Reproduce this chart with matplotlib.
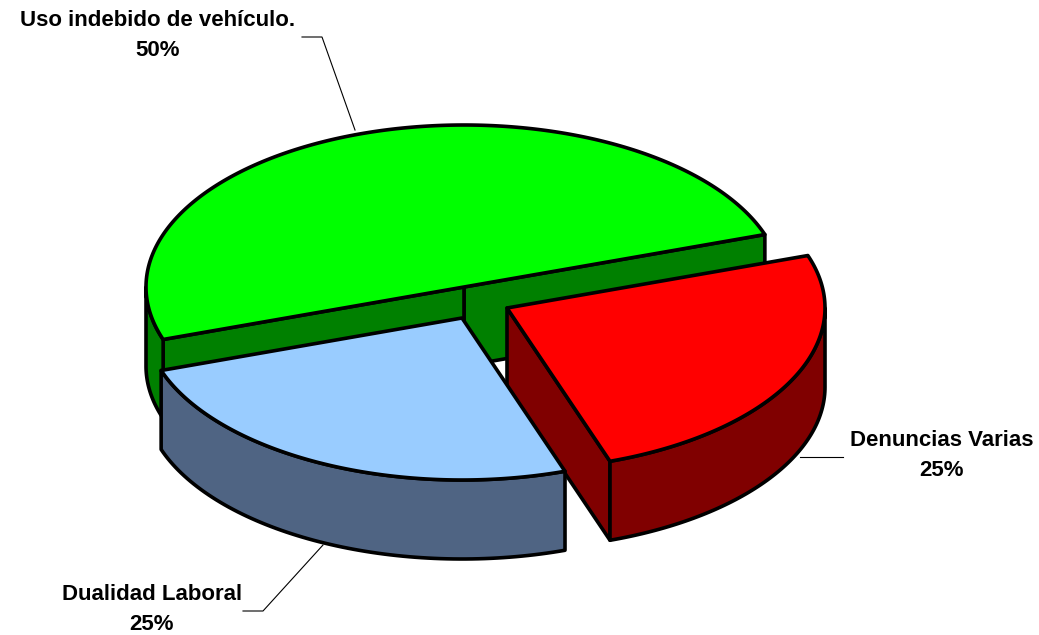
# 3D-style pie (Excel look) - casos por tipo de falta
import numpy as np
import matplotlib.pyplot as plt
from matplotlib.patches import Polygon

plt.rcParams['font.family'] = ['Liberation Sans', 'DejaVu Sans']

labels = ['Uso indebido de vehículo.', 'Dualidad Laboral', 'Denuncias Varias']
values = [50, 25, 25]
top_colors = ['#00FF00', '#99CCFF', '#FF0000']
side_colors = ['#008000', '#4F6483', '#800000']

# geometry of the drawing (pixel-like units)
CX, CY = 464, 287
RX, RY = 318, 162
DEPTH = 79
START = 18.9
offsets = [(0, 0), (-2, 31), (43, 21)]
draw_order = [0, 2, 1]

# label placement: (x, y of name, y of pct)
label_pos = [(158, 21, 50), (152, 594, 624), (942, 440, 470)]
leaders = [[(302, 37), (322, 37), (355, 130)],
           [(243, 611), (263, 611), (323, 545)],
           [(800, 457), (843, 457)]]


def pts(thetas, dx, dy, drop=0):
    t = np.radians(thetas)
    return np.column_stack([CX + dx + RX * np.cos(t), CY + dy - RY * np.sin(t) + drop])


def wall(t_a, t_b, dx, dy):
    th = np.linspace(t_a, t_b, 80)
    top = pts(th, dx, dy)
    bot = pts(th[::-1], dx, dy, DEPTH)
    return np.vstack([top, bot])


def radial_wall(t, dx, dy):
    c = np.array([[CX + dx, CY + dy]])
    p = pts([t], dx, dy)
    return np.vstack([c, p, p + [0, DEPTH], c + [0, DEPTH]])


def main():
    fig = plt.figure(figsize=(10.39, 6.35), dpi=100)
    ax = fig.add_axes([0, 0, 1, 1])
    ax.set_xlim(0, 1039)
    ax.set_ylim(635, 0)
    ax.axis('off')

    total = float(sum(values))
    angles = START + 360 * np.concatenate([[0], np.cumsum(values)]) / total
    lw = 2.6

    for i in draw_order:
        t1, t2 = angles[i], angles[i + 1]
        dx, dy = offsets[i]
        # radial cut faces facing the viewer
        if np.cos(np.radians(t1)) > 0:
            ax.add_patch(Polygon(radial_wall(t1, dx, dy), closed=True, fc=side_colors[i],
                                 ec='black', lw=lw, joinstyle='round'))
        if np.cos(np.radians(t2)) < 0:
            ax.add_patch(Polygon(radial_wall(t2, dx, dy), closed=True, fc=side_colors[i],
                                 ec='black', lw=lw, joinstyle='round'))
        # outer rim, front half only
        for k in range(2):
            lo, hi = max(t1, 180 + 360 * k), min(t2, 360 + 360 * k)
            if hi > lo:
                ax.add_patch(Polygon(wall(lo, hi, dx, dy), closed=True, fc=side_colors[i],
                                     ec='black', lw=lw, joinstyle='round'))
        # top face
        th = np.linspace(t1, t2, 200)
        face = np.vstack([[CX + dx, CY + dy], pts(th, dx, dy)])
        ax.add_patch(Polygon(face, closed=True, fc=top_colors[i], ec='black', lw=lw,
                             joinstyle='round'))

    for i, name in enumerate(labels):
        x, y1, y2 = label_pos[i]
        pct = '%d%%' % round(100 * values[i] / total)
        ax.text(x, y1, name, ha='center', va='center', fontsize=16, fontweight='bold')
        ax.text(x, y2, pct, ha='center', va='center', fontsize=16, fontweight='bold')
        ln = np.array(leaders[i])
        ax.plot(ln[:, 0], ln[:, 1], color='black', lw=0.8)

    plt.savefig('out.png', dpi=100)


if __name__ == '__main__':
    main()
